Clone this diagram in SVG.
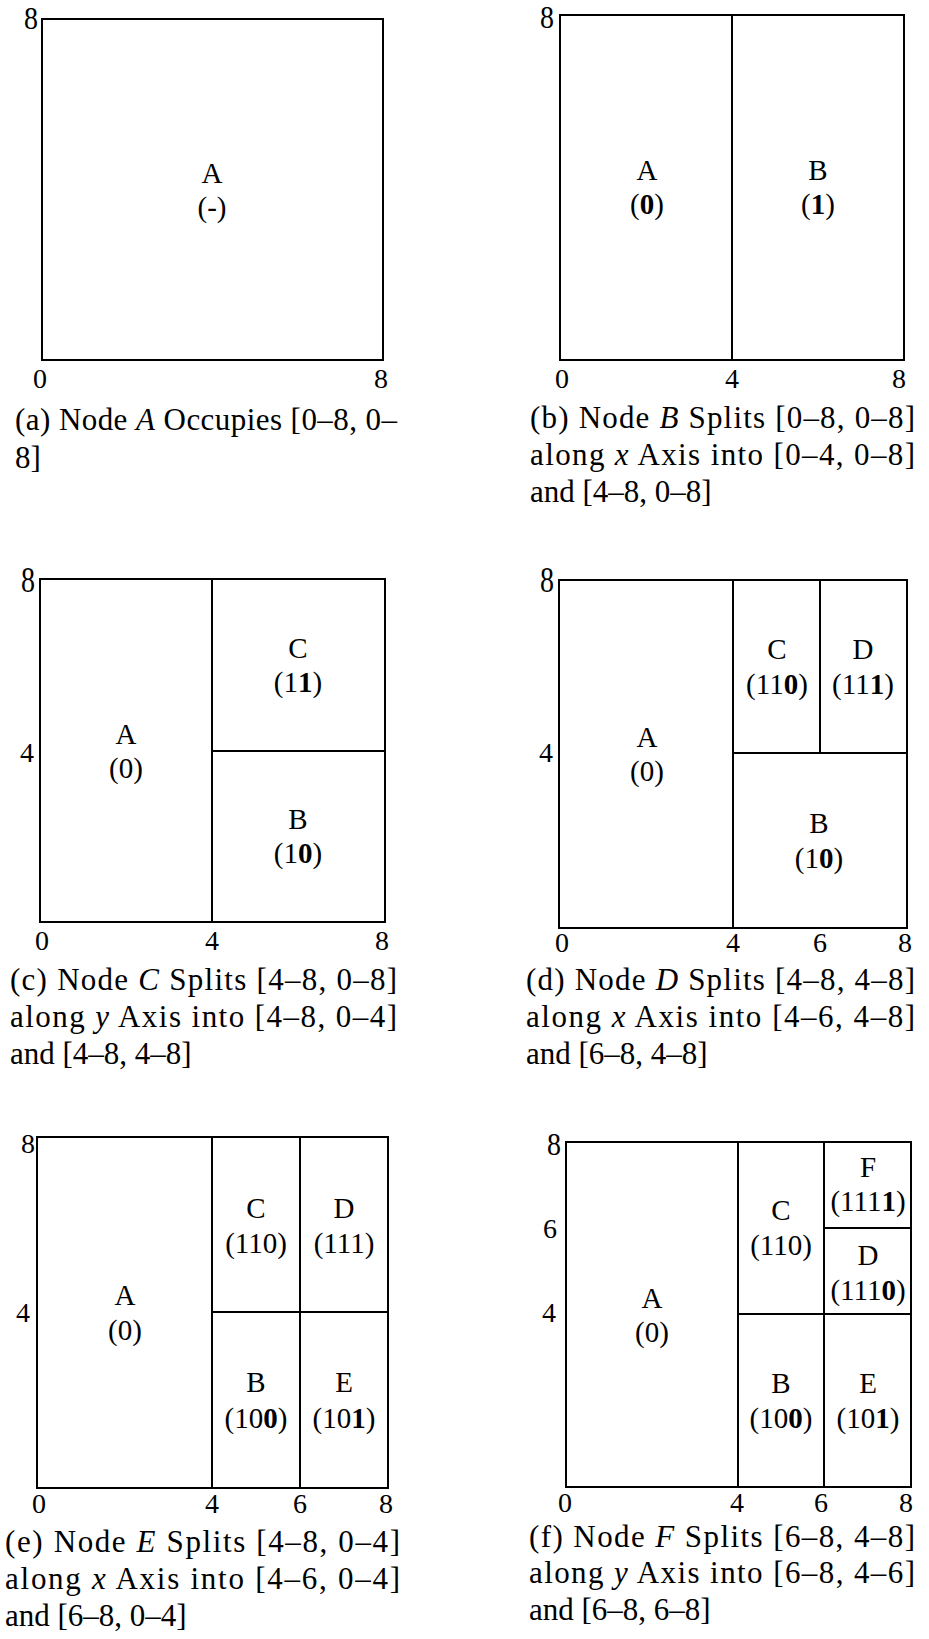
<svg xmlns="http://www.w3.org/2000/svg" width="929" height="1639" viewBox="0 0 929 1639">
<style>
.bx{fill:none;stroke:#000;stroke-width:2}
.ln{stroke:#000;stroke-width:2}
.lb{font-family:"Liberation Serif","Times New Roman",serif;font-size:29px;text-anchor:middle;fill:#000}
.ax{font-family:"Liberation Serif","Times New Roman",serif;font-size:28px;text-anchor:middle;fill:#000}
.cap{font-family:"Liberation Serif","Times New Roman",serif;font-size:31px;fill:#000}
.b{font-weight:bold}
.i{font-style:italic}
</style>
<rect width="929" height="1639" fill="#fff"/>

<!-- Panel (a) -->
<g id="panel-a">
  <rect class="bx" x="42" y="19" width="341" height="341"/>
  <g id="a-A"><text class="lb" x="212" y="183">A</text><text class="lb" x="212" y="217">(-)</text></g>
  <text class="ax" transform="translate(31,29) scale(1,1.1)">8</text>
  <text class="ax" x="40" y="388">0</text>
  <text class="ax" x="381" y="388">8</text>
  <text class="cap" x="15" y="430" textLength="382" lengthAdjust="spacing">(a) Node <tspan class="i">A</tspan> Occupies [0–8, 0–</text>
  <text class="cap" x="15" y="468">8]</text>
</g>

<!-- Panel (b) -->
<g id="panel-b">
  <rect class="bx" x="560" y="15" width="344" height="345"/>
  <g id="connectors-b"><line class="ln" x1="732" y1="15" x2="732" y2="360"/></g>
  <g id="b-A"><text class="lb" x="647" y="180">A</text><text class="lb" x="647" y="214">(<tspan class="b">0</tspan>)</text></g>
  <g id="b-B"><text class="lb" x="818" y="180">B</text><text class="lb" x="818" y="214">(<tspan class="b">1</tspan>)</text></g>
  <text class="ax" transform="translate(547,28) scale(1,1.1)">8</text>
  <text class="ax" x="562" y="388">0</text>
  <text class="ax" x="732" y="388">4</text>
  <text class="ax" x="899" y="388">8</text>
  <text class="cap" x="530" y="428" textLength="385" lengthAdjust="spacing">(b) Node <tspan class="i">B</tspan> Splits [0–8, 0–8]</text>
  <text class="cap" x="530" y="465" textLength="385" lengthAdjust="spacing">along <tspan class="i">x</tspan> Axis into [0–4, 0–8]</text>
  <text class="cap" x="530" y="502">and [4–8, 0–8]</text>
</g>

<!-- Panel (c) -->
<g id="panel-c">
  <rect class="bx" x="40" y="579" width="345" height="343"/>
  <g id="connectors-c">
    <line class="ln" x1="212" y1="579" x2="212" y2="922"/>
    <line class="ln" x1="212" y1="751" x2="385" y2="751"/>
  </g>
  <g id="c-A"><text class="lb" x="126" y="744">A</text><text class="lb" x="126" y="778">(0)</text></g>
  <g id="c-C"><text class="lb" x="298" y="658">C</text><text class="lb" x="298" y="692">(1<tspan class="b">1</tspan>)</text></g>
  <g id="c-B"><text class="lb" x="298" y="829">B</text><text class="lb" x="298" y="863">(1<tspan class="b">0</tspan>)</text></g>
  <text class="ax" transform="translate(28,592) scale(1,1.3)">8</text>
  <text class="ax" x="27" y="762">4</text>
  <text class="ax" x="42" y="950">0</text>
  <text class="ax" x="212" y="950">4</text>
  <text class="ax" x="382" y="950">8</text>
  <text class="cap" x="10" y="990" textLength="387" lengthAdjust="spacing">(c) Node <tspan class="i">C</tspan> Splits [4–8, 0–8]</text>
  <text class="cap" x="10" y="1027" textLength="387" lengthAdjust="spacing">along <tspan class="i">y</tspan> Axis into [4–8, 0–4]</text>
  <text class="cap" x="10" y="1064">and [4–8, 4–8]</text>
</g>

<!-- Panel (d) -->
<g id="panel-d">
  <rect class="bx" x="559" y="580" width="348" height="348"/>
  <g id="connectors-d">
    <line class="ln" x1="733" y1="580" x2="733" y2="928"/>
    <line class="ln" x1="733" y1="753" x2="907" y2="753"/>
    <line class="ln" x1="820" y1="580" x2="820" y2="753"/>
  </g>
  <g id="d-A"><text class="lb" x="647" y="747">A</text><text class="lb" x="647" y="781">(0)</text></g>
  <g id="d-C"><text class="lb" x="777" y="659">C</text><text class="lb" x="777" y="694">(11<tspan class="b">0</tspan>)</text></g>
  <g id="d-D"><text class="lb" x="863" y="659">D</text><text class="lb" x="863" y="694">(11<tspan class="b">1</tspan>)</text></g>
  <g id="d-B"><text class="lb" x="819" y="833">B</text><text class="lb" x="819" y="868">(1<tspan class="b">0</tspan>)</text></g>
  <text class="ax" transform="translate(547,592) scale(1,1.3)">8</text>
  <text class="ax" x="546" y="762">4</text>
  <text class="ax" x="562" y="952">0</text>
  <text class="ax" x="733" y="952">4</text>
  <text class="ax" x="820" y="952">6</text>
  <text class="ax" x="905" y="952">8</text>
  <text class="cap" x="526" y="990" textLength="389" lengthAdjust="spacing">(d) Node <tspan class="i">D</tspan> Splits [4–8, 4–8]</text>
  <text class="cap" x="526" y="1027" textLength="389" lengthAdjust="spacing">along <tspan class="i">x</tspan> Axis into [4–6, 4–8]</text>
  <text class="cap" x="526" y="1064">and [6–8, 4–8]</text>
</g>

<!-- Panel (e) -->
<g id="panel-e">
  <rect class="bx" x="37" y="1137" width="351" height="351"/>
  <g id="connectors-e">
    <line class="ln" x1="212" y1="1137" x2="212" y2="1488"/>
    <line class="ln" x1="300" y1="1137" x2="300" y2="1488"/>
    <line class="ln" x1="212" y1="1312" x2="388" y2="1312"/>
  </g>
  <g id="e-A"><text class="lb" x="125" y="1305">A</text><text class="lb" x="125" y="1340">(0)</text></g>
  <g id="e-C"><text class="lb" x="256" y="1218">C</text><text class="lb" x="256" y="1253">(110)</text></g>
  <g id="e-D"><text class="lb" x="344" y="1218">D</text><text class="lb" x="344" y="1253">(111)</text></g>
  <g id="e-B"><text class="lb" x="256" y="1392">B</text><text class="lb" x="256" y="1428">(10<tspan class="b">0</tspan>)</text></g>
  <g id="e-E"><text class="lb" x="344" y="1392">E</text><text class="lb" x="344" y="1428">(10<tspan class="b">1</tspan>)</text></g>
  <text class="ax" x="28" y="1153">8</text>
  <text class="ax" x="23" y="1322">4</text>
  <text class="ax" x="39" y="1513">0</text>
  <text class="ax" x="212" y="1513">4</text>
  <text class="ax" x="300" y="1513">6</text>
  <text class="ax" x="386" y="1513">8</text>
  <text class="cap" x="5" y="1552" textLength="395" lengthAdjust="spacing">(e) Node <tspan class="i">E</tspan> Splits [4–8, 0–4]</text>
  <text class="cap" x="5" y="1589" textLength="395" lengthAdjust="spacing">along <tspan class="i">x</tspan> Axis into [4–6, 0–4]</text>
  <text class="cap" x="5" y="1626">and [6–8, 0–4]</text>
</g>

<!-- Panel (f) -->
<g id="panel-f">
  <rect class="bx" x="566" y="1142" width="345" height="345"/>
  <g id="connectors-f">
    <line class="ln" x1="738" y1="1142" x2="738" y2="1487"/>
    <line class="ln" x1="824" y1="1142" x2="824" y2="1487"/>
    <line class="ln" x1="738" y1="1314" x2="911" y2="1314"/>
    <line class="ln" x1="824" y1="1228" x2="911" y2="1228"/>
  </g>
  <g id="f-A"><text class="lb" x="652" y="1308">A</text><text class="lb" x="652" y="1342">(0)</text></g>
  <g id="f-C"><text class="lb" x="781" y="1220">C</text><text class="lb" x="781" y="1255">(110)</text></g>
  <g id="f-F"><text class="lb" x="868" y="1177">F</text><text class="lb" x="868" y="1211">(111<tspan class="b">1</tspan>)</text></g>
  <g id="f-D"><text class="lb" x="868" y="1265">D</text><text class="lb" x="868" y="1300">(111<tspan class="b">0</tspan>)</text></g>
  <g id="f-B"><text class="lb" x="781" y="1393">B</text><text class="lb" x="781" y="1428">(10<tspan class="b">0</tspan>)</text></g>
  <g id="f-E"><text class="lb" x="868" y="1393">E</text><text class="lb" x="868" y="1428">(10<tspan class="b">1</tspan>)</text></g>
  <text class="ax" transform="translate(554,1155) scale(1,1.15)">8</text>
  <text class="ax" x="550" y="1238">6</text>
  <text class="ax" x="549" y="1322">4</text>
  <text class="ax" x="565" y="1512">0</text>
  <text class="ax" x="737" y="1512">4</text>
  <text class="ax" x="821" y="1512">6</text>
  <text class="ax" x="906" y="1512">8</text>
  <text class="cap" x="529" y="1547" textLength="386" lengthAdjust="spacing">(f) Node <tspan class="i">F</tspan> Splits [6–8, 4–8]</text>
  <text class="cap" x="529" y="1583" textLength="386" lengthAdjust="spacing">along <tspan class="i">y</tspan> Axis into [6–8, 4–6]</text>
  <text class="cap" x="529" y="1620">and [6–8, 6–8]</text>
</g>
</svg>
